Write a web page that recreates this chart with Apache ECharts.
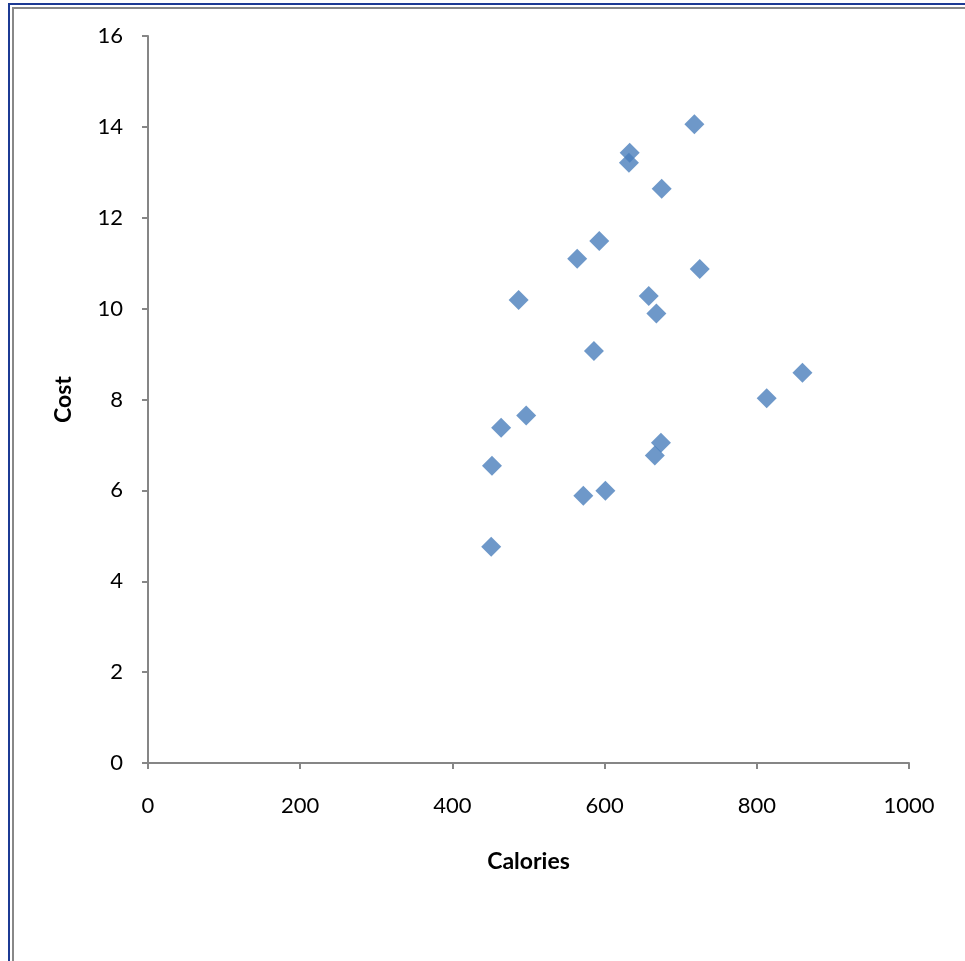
<!DOCTYPE html>
<html>
<head>
<meta charset="utf-8">
<script src="https://cdn.jsdelivr.net/npm/echarts@6/dist/echarts.min.js"></script>
<style>
  html, body { margin: 0; padding: 0; background: #fff; }
  #chart { width: 965px; height: 961px; }
</style>
</head>
<body>
<div id="chart"></div>
<script>
// calories / cost pairs
const calories = [718, 633, 632, 675, 593, 564, 725, 487, 658, 668, 586, 860, 813, 497, 464, 674, 666, 452, 601, 572, 451];
const cost = [14.06, 13.43, 13.21, 12.64, 11.49, 11.10, 10.87, 10.19, 10.28, 9.89, 9.07, 8.59, 8.03, 7.65, 7.38, 7.05, 6.77, 6.54, 5.99, 5.88, 4.76];
const xTicks = [0, 200, 400, 600, 800, 1000];
const yTicks = [0, 2, 4, 6, 8, 10, 12, 14, 16];

const points = calories.map((c, i) => [c, cost[i]]);

const labelFont = 'Lato, "Open Sans", sans-serif';

const chart = echarts.init(document.getElementById('chart'));
chart.setOption({
    animation: false,
    backgroundColor: '#fff',
    grid: { left: 148, right: 56, top: 36, bottom: 198 },
    graphic: [
        // double frame round the chart area
        { type: 'rect', shape: { x: 9, y: 4, width: 2000, height: 2000 }, style: { fill: null, stroke: '#1c3a94', lineWidth: 2 } },
        { type: 'rect', shape: { x: 13, y: 8, width: 2000, height: 2000 }, style: { fill: null, stroke: '#888888', lineWidth: 2 } }
    ],
    xAxis: {
        type: 'value',
        min: xTicks[0],
        max: xTicks[xTicks.length - 1],
        interval: 200,
        name: 'Calories',
        nameLocation: 'middle',
        nameGap: 87,
        nameTextStyle: { fontFamily: labelFont, fontSize: 23, fontWeight: 'bold', color: '#000' },
        axisLine: { show: true, lineStyle: { color: '#868686', width: 2 } },
        axisTick: { show: true, length: 6, lineStyle: { color: '#868686', width: 2 } },
        axisLabel: { margin: 32, fontFamily: labelFont, fontSize: 22, color: '#000', formatter: v => String(v) },
        splitLine: { show: false }
    },
    yAxis: {
        type: 'value',
        min: yTicks[0],
        max: yTicks[yTicks.length - 1],
        interval: 2,
        name: 'Cost',
        nameLocation: 'middle',
        nameGap: 73,
        nameTextStyle: { fontFamily: labelFont, fontSize: 23, fontWeight: 'bold', color: '#000' },
        axisLine: { show: true, lineStyle: { color: '#868686', width: 2 } },
        axisTick: { show: true, length: 6, lineStyle: { color: '#868686', width: 2 } },
        axisLabel: { margin: 25, fontFamily: labelFont, fontSize: 22, color: '#000' },
        splitLine: { show: false }
    },
    series: [{
        type: 'scatter',
        symbol: 'diamond',
        symbolSize: 20,
        itemStyle: { color: '#4a7ebb' },
        data: points
    }]
});
</script>
</body>
</html>
